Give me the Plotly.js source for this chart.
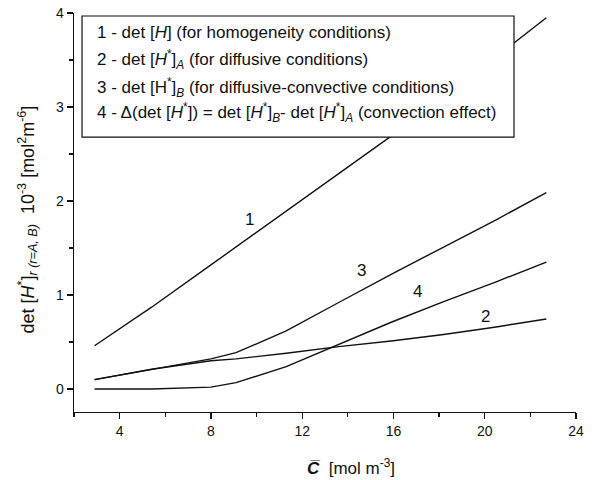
<!DOCTYPE html>
<html>
<head>
<meta charset="utf-8">
<script src="https://cdn.plot.ly/plotly-3.0.1.min.js"></script>
<style>
  html, body { margin: 0; padding: 0; background: #fff; }
  #chart { width: 609px; height: 480px; }
</style>
</head>
<body>
<div id="chart"></div>
<script>
// Mean concentration C̄ [mol m^-3]
const concentration = [2.9, 5.4, 8.0, 9.1, 11.3, 13.6, 15.9, 18.2, 20.5, 22.7];

// det values, 10^-3 [mol^2 m^-6]
const detHomogeneous = [0.46, 0.87, 1.32, 1.51, 1.89, 2.29, 2.69, 3.10, 3.53, 3.95];   // 1
const detDiffusive   = [0.10, 0.21, 0.30, 0.32, 0.38, 0.45, 0.51, 0.58, 0.66, 0.745];  // 2
const detDiffConv    = [0.10, 0.21, 0.32, 0.386, 0.617, 0.92, 1.22, 1.51, 1.80, 2.09]; // 3
const convectionEff  = [0.0, 0.0, 0.02, 0.067, 0.237, 0.47, 0.71, 0.93, 1.14, 1.35];  // 4

const curveNames = ['1', '2', '3', '4'];
const curveLabelX = [9.67, 20.03, 14.58, 17.07];
const curveLabelY = [1.80, 0.77, 1.26, 1.035];

const xTickVals = [4, 8, 12, 16, 20, 24];
const yTickVals = [0, 1, 2, 3, 4];

const legendLines = [
  '1 - det [<i>H</i>] (for homogeneity conditions)',
  '2 - det [<i>H</i><sup>*</sup>]<sub><i>A</i></sub> (for diffusive conditions)',
  '3 - det [H<sup>*</sup>]<sub><i>B</i></sub> (for diffusive-convective conditions)',
  '4 - \u0394(det [<i>H</i><sup>*</sup>]) = det [<i>H</i><sup>*</sup>]<sub><i>B</i></sub>- det [<i>H</i><sup>*</sup>]<sub><i>A</i></sub> (convection effect)'
];

const FONT = 'Liberation Sans, Arial, Helvetica, sans-serif';
const lineStyle = { color: '#111', width: 1.4 };

const seriesY = [detHomogeneous, detDiffusive, detDiffConv, convectionEff];
const traces = seriesY.map((ys, i) => ({
  x: concentration,
  y: ys,
  type: 'scatter',
  mode: 'lines',
  name: curveNames[i],
  line: lineStyle,
  hoverinfo: 'x+y'
}));

const annotations = [];

// curve numbers placed next to each line
curveNames.forEach((n, i) => {
  annotations.push({
    x: curveLabelX[i], y: curveLabelY[i], xref: 'x', yref: 'y',
    text: n, showarrow: false,
    font: { family: FONT, size: 17, color: '#111' }
  });
});

// key box text
const legendY = [0.952, 0.883, 0.814, 0.750];
legendLines.forEach((t, i) => {
  annotations.push({
    x: 0.0418, y: legendY[i], xref: 'paper', yref: 'paper',
    xanchor: 'left', yanchor: 'middle',
    text: t, showarrow: false, align: 'left',
    font: { family: FONT, size: 17, color: '#111' }
  });
});

// axis titles
annotations.push({
  x: 0.552, y: -0.138, xref: 'paper', yref: 'paper',
  xanchor: 'center', yanchor: 'middle',
  text: '<b><i>C\u0305</i></b>  [mol m<sup>-3</sup>]', showarrow: false,
  font: { family: FONT, size: 17, color: '#111' }
});
annotations.push({
  x: -0.092, y: 0.482, xref: 'paper', yref: 'paper',
  xanchor: 'center', yanchor: 'middle', textangle: -90,
  text: 'det [<i>H</i><sup>*</sup>]<sub><i>r</i> <i>(r=A, B)</i></sub>  10<sup>-3</sup> [mol<sup>2</sup>m<sup>-6</sup>]',
  showarrow: false,
  font: { family: FONT, size: 18, color: '#111' }
});

const axisCommon = {
  showline: true, linecolor: '#111', linewidth: 1.3,
  ticks: 'outside', ticklen: 6, tickwidth: 1.3, tickcolor: '#111',
  showgrid: false, zeroline: false,
  tickfont: { family: FONT, size: 14, color: '#111' },
  mirror: false
};

const layout = {
  width: 609, height: 480,
  margin: { l: 74, r: 33, t: 13, b: 68 },
  paper_bgcolor: '#fff', plot_bgcolor: '#fff',
  showlegend: false,
  font: { family: FONT, color: '#111' },
  xaxis: Object.assign({}, axisCommon, {
    range: [2, 24], tickmode: 'array', tickvals: xTickVals,
    minor: { dtick: 2, tick0: 0, ticks: 'outside', ticklen: 4, tickwidth: 1.2, tickcolor: '#111', showgrid: false }
  }),
  yaxis: Object.assign({}, axisCommon, {
    range: [-0.245, 4], tickmode: 'array', tickvals: yTickVals,
    minor: { dtick: 0.5, tick0: 0, ticks: 'outside', ticklen: 4, tickwidth: 1.2, tickcolor: '#111', showgrid: false }
  }),
  shapes: [{
    type: 'rect', xref: 'paper', yref: 'paper', layer: 'above',
    x0: 0.016, x1: 0.8765, y0: 0.689, y1: 0.9925,
    fillcolor: '#fff', line: { color: '#111', width: 1.2 }
  }],
  annotations: annotations
};

Plotly.newPlot('chart', traces, layout, { displayModeBar: false, staticPlot: true });
</script>
</body>
</html>
